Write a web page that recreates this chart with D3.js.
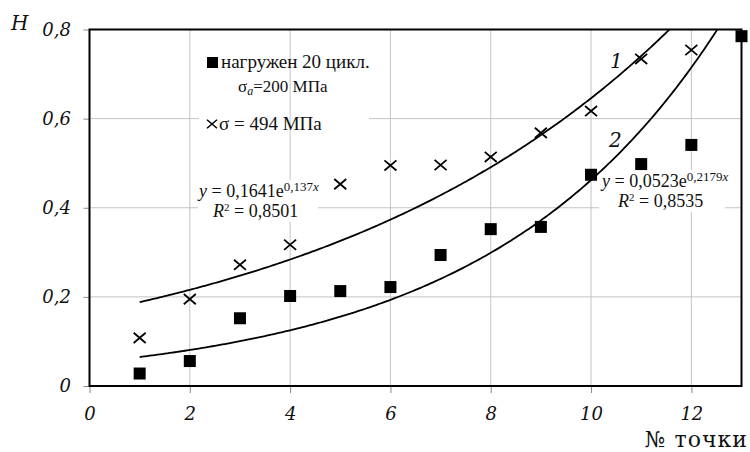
<!DOCTYPE html>
<html>
<head>
<meta charset="utf-8">
<script src="https://cdn.jsdelivr.net/npm/d3@7"></script>
<style>
  body { margin: 0; background: #fff; }
</style>
</head>
<body>
<div id="chart"></div>
<script>
// point numbers and measured values
var pointsLoaded = [1, 2, 3, 4, 5, 6, 7, 8, 9, 10, 11, 12, 13]
var valuesLoaded = [0.028, 0.056, 0.152, 0.202, 0.213, 0.222, 0.294, 0.352, 0.357, 0.474, 0.498, 0.541, 0.785]
var pointsStress = [1, 2, 3, 4, 5, 6, 7, 8, 9, 10, 11, 12]
var valuesStress = [0.108, 0.195, 0.272, 0.317, 0.453, 0.495, 0.496, 0.514, 0.568, 0.617, 0.734, 0.754]

// exponential trendlines y = a*e^(b*x), as printed on the chart
var trend1 = [0.1641, 0.137]   // curve 1 (crosses)
var trend2 = [0.0523, 0.2179]  // curve 2 (squares)

var xTicks = [0, 2, 4, 6, 8, 10, 12]
var yTicks = [0, 0.2, 0.4, 0.6, 0.8]

var width = 750, height = 452
var plotL = 89.5, plotR = 741.5, plotT = 29.5, plotB = 386

var serif = "Liberation Serif"
var wideSerif = "DejaVu Serif"

var x = d3.scaleLinear().domain([0, 13]).range([plotL, plotR])
var y = d3.scaleLinear().domain([0, 0.8]).range([plotB, plotT])
var fmt = function(d){ return String(d).replace(".", ",") }

var svg = d3.select("#chart").append("svg")
  .attr("width", width)
  .attr("height", height)

svg.append("clipPath").attr("id", "plotClip")
  .append("rect")
  .attr("x", plotL).attr("y", plotT)
  .attr("width", plotR - plotL).attr("height", plotB - plotT)

var gridColor = "#c4c4c4"

// horizontal grid first, legend box hides it, vertical grid goes over the legend
svg.selectAll(".hgrid").data(yTicks.slice(1, -1)).enter().append("line")
  .attr("x1", plotL).attr("x2", plotR)
  .attr("y1", d => y(d)).attr("y2", d => y(d))
  .attr("stroke", gridColor).attr("stroke-width", 1)

svg.append("rect").attr("x", 199).attr("y", 50).attr("width", 170).attr("height", 85).attr("fill", "#fff")

svg.selectAll(".vgrid").data(xTicks.slice(1)).enter().append("line")
  .attr("x1", d => x(d)).attr("x2", d => x(d))
  .attr("y1", plotT).attr("y2", plotB)
  .attr("stroke", gridColor).attr("stroke-width", 1)

// white boxes behind the trendline equations
svg.append("rect").attr("x", 198).attr("y", 180).attr("width", 120).attr("height", 42).attr("fill", "#fff")
svg.append("rect").attr("x", 599).attr("y", 170).attr("width", 126).attr("height", 42).attr("fill", "#fff")

// axes
var xAxis = svg.append("g")
  .attr("transform", `translate(0,${plotB})`)
  .call(d3.axisBottom(x).tickValues(xTicks).tickFormat(fmt).tickSize(7).tickSizeOuter(0).tickPadding(14))
xAxis.attr("font-family", wideSerif).attr("font-size", 18).attr("font-style", "italic")
xAxis.select(".domain").remove()
xAxis.selectAll("line").attr("stroke", "#888")
xAxis.selectAll("text").attr("fill", "#111")

var yAxis = svg.append("g")
  .attr("transform", `translate(${plotL},0)`)
  .call(d3.axisLeft(y).tickValues(yTicks).tickFormat(fmt).tickSize(6).tickSizeOuter(0).tickPadding(12.5))
yAxis.attr("font-family", wideSerif).attr("font-size", 18).attr("font-style", "italic")
yAxis.select(".domain").remove()
yAxis.selectAll("line").attr("stroke", "#888")
yAxis.selectAll("text").attr("fill", "#111")

// frame
svg.append("rect")
  .attr("x", plotL).attr("y", plotT)
  .attr("width", plotR - plotL).attr("height", plotB - plotT)
  .attr("fill", "none").attr("stroke", "#000").attr("stroke-width", 2)

// trendlines
function trendPoints(t){
  return d3.range(1, 13.01, 0.05).map(function(v){ return [v, t[0]*Math.exp(t[1]*v)] })
}
var line = d3.line().x(d => x(d[0])).y(d => y(d[1]))
svg.append("path").attr("d", line(trendPoints(trend1)))
  .attr("clip-path", "url(#plotClip)")
  .attr("fill", "none").attr("stroke", "#000").attr("stroke-width", 1.8)
svg.append("path").attr("d", line(trendPoints(trend2)))
  .attr("clip-path", "url(#plotClip)")
  .attr("fill", "none").attr("stroke", "#000").attr("stroke-width", 1.8)

// markers
var sq = 12
svg.selectAll(".sq").data(pointsLoaded).enter().append("rect")
  .attr("x", (d, i) => x(d) - sq/2)
  .attr("y", (d, i) => y(valuesLoaded[i]) - sq/2)
  .attr("width", sq).attr("height", sq)
  .attr("fill", "#000")

function crossPath(cx, cy, r){
  return `M${cx-r},${cy-r*0.85}L${cx+r},${cy+r*0.85}M${cx-r},${cy+r*0.85}L${cx+r},${cy-r*0.85}`
}
svg.selectAll(".cr").data(pointsStress).enter().append("path")
  .attr("d", (d, i) => crossPath(x(d), y(valuesStress[i]), 6))
  .attr("stroke", "#000").attr("stroke-width", 1.8).attr("fill", "none")

// plain text helper
function label(px, py, txt, fam, size, italic){
  return svg.append("text").attr("x", px).attr("y", py).text(txt)
    .attr("font-family", fam).attr("font-size", size)
    .attr("font-style", italic ? "italic" : "normal")
    .attr("fill", "#111")
}

// axis titles
label(11, 30, "H", wideSerif, 20, true)
label(748, 447, "№ точки", wideSerif, 22, false).attr("text-anchor", "end").attr("letter-spacing", 1)

// curve numbers
label(610, 68, "1", wideSerif, 20, true)
label(609, 147, "2", wideSerif, 20, true)

// legend
svg.append("rect").attr("x", 207).attr("y", 57).attr("width", 11).attr("height", 11).attr("fill", "#000")
label(221, 68, "нагружен 20 цикл.", serif, 19, false)
var sLeg = label(238, 92, "", serif, 17, false)
sLeg.append("tspan").text("σ")
sLeg.append("tspan").text("a").attr("dy", 3).attr("font-style", "italic").attr("font-size", 12)
sLeg.append("tspan").text("=200 МПа").attr("dy", -3)
svg.append("path").attr("d", crossPath(212, 124, 5))
  .attr("stroke", "#000").attr("stroke-width", 1.5).attr("fill", "none")
label(219, 130, "σ = 494 МПа", serif, 19, false)

// equations
function equation(px, py, a, b, r2, rx){
  var t = label(px, py, "", serif, 18, false)
  t.append("tspan").text("y").attr("font-style", "italic")
  t.append("tspan").text(" = " + a + "e")
  t.append("tspan").text(b).attr("dy", -6).attr("font-size", 13)
  t.append("tspan").text("x").attr("font-size", 13).attr("font-style", "italic")
  var r = label(rx, py + 20, "", serif, 18, false)
  r.append("tspan").text("R").attr("font-style", "italic")
  r.append("tspan").text("2").attr("dy", -6).attr("font-size", 11)
  r.append("tspan").text(" = " + r2).attr("dy", 6)
}
equation(199, 197, "0,1641", "0,137", "0,8501", 213)
equation(602, 187, "0,0523", "0,2179", "0,8535", 618)
</script>
</body>
</html>
